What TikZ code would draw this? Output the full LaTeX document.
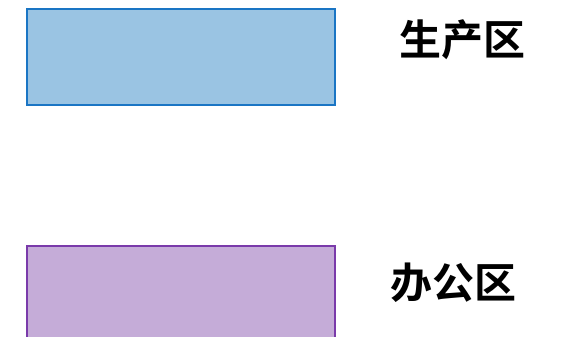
\documentclass[tikz,border=0pt]{standalone}
\usepackage{fontspec}
\newfontfamily\cjk{Noto Sans CJK SC}[BoldFont={Noto Sans CJK SC Bold}]
\definecolor{bluefill}{HTML}{9AC4E3}
\definecolor{blueline}{HTML}{1A75C4}
\definecolor{purpfill}{HTML}{C5ACD8}
\definecolor{purpline}{HTML}{7A3AAA}
\tikzset{
  zonebox/.style={draw, line width=2pt},
  zonelabel/.style={font=\cjk\bfseries\fontsize{42}{46}\selectfont, text=black, inner sep=0pt}
}
\begin{document}
\begin{tikzpicture}[x=1pt,y=-1pt]
\useasboundingbox (0,0) rectangle (566,337);
\path[zonebox, draw=blueline, fill=bluefill] (27,9) rectangle (335,105);
\path[zonebox, draw=purpline, fill=purpfill] (27,246) rectangle (335,350);
\node[zonelabel] (prod) at (462,40) {生产区};
\node[zonelabel] (office) at (453,283) {办公区};
\end{tikzpicture}
\end{document}
